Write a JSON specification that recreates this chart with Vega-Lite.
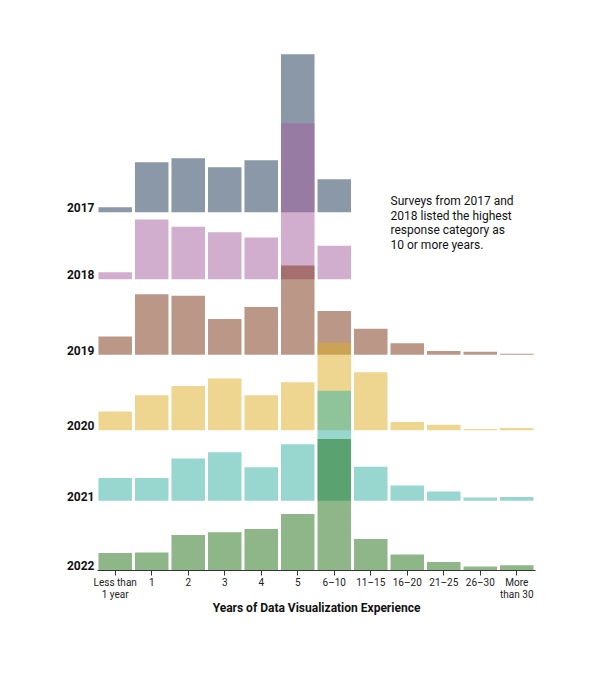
{
  "$schema": "https://vega.github.io/schema/vega-lite/v6.json",
  "autosize": {"type": "none"},
  "width": 438,
  "height": 530,
  "padding": {"left": 97, "top": 40, "right": 65, "bottom": 103},
  "config": {"view": {"stroke": null}, "font": "Roboto"},
  "datasets": {
    "survey": [
      {"year": "2017", "cat": "Less than 1 year", "pct": 1.3},
      {"year": "2017", "cat": "1", "pct": 12.6},
      {"year": "2017", "cat": "2", "pct": 13.6},
      {"year": "2017", "cat": "3", "pct": 11.3},
      {"year": "2017", "cat": "4", "pct": 13.1},
      {"year": "2017", "cat": "5", "pct": 39.7},
      {"year": "2017", "cat": "6–10", "pct": 8.3},
      {"year": "2018", "cat": "Less than 1 year", "pct": 1.8},
      {"year": "2018", "cat": "1", "pct": 15.0},
      {"year": "2018", "cat": "2", "pct": 13.2},
      {"year": "2018", "cat": "3", "pct": 11.8},
      {"year": "2018", "cat": "4", "pct": 10.5},
      {"year": "2018", "cat": "5", "pct": 39.2},
      {"year": "2018", "cat": "6–10", "pct": 8.4},
      {"year": "2019", "cat": "Less than 1 year", "pct": 4.6},
      {"year": "2019", "cat": "1", "pct": 15.2},
      {"year": "2019", "cat": "2", "pct": 14.8},
      {"year": "2019", "cat": "3", "pct": 9.0},
      {"year": "2019", "cat": "4", "pct": 12.0},
      {"year": "2019", "cat": "5", "pct": 22.4},
      {"year": "2019", "cat": "6–10", "pct": 11.0},
      {"year": "2019", "cat": "11–15", "pct": 6.5},
      {"year": "2019", "cat": "16–20", "pct": 2.9},
      {"year": "2019", "cat": "21–25", "pct": 0.9},
      {"year": "2019", "cat": "26–30", "pct": 0.75},
      {"year": "2019", "cat": "More than 30", "pct": 0.25},
      {"year": "2020", "cat": "Less than 1 year", "pct": 4.7},
      {"year": "2020", "cat": "1", "pct": 8.8},
      {"year": "2020", "cat": "2", "pct": 11.1},
      {"year": "2020", "cat": "3", "pct": 13.0},
      {"year": "2020", "cat": "4", "pct": 8.8},
      {"year": "2020", "cat": "5", "pct": 12.1},
      {"year": "2020", "cat": "6–10", "pct": 22.0},
      {"year": "2020", "cat": "11–15", "pct": 14.6},
      {"year": "2020", "cat": "16–20", "pct": 2.1},
      {"year": "2020", "cat": "21–25", "pct": 1.4},
      {"year": "2020", "cat": "26–30", "pct": 0.33},
      {"year": "2020", "cat": "More than 30", "pct": 0.58},
      {"year": "2021", "cat": "Less than 1 year", "pct": 5.7},
      {"year": "2021", "cat": "1", "pct": 5.7},
      {"year": "2021", "cat": "2", "pct": 10.6},
      {"year": "2021", "cat": "3", "pct": 12.2},
      {"year": "2021", "cat": "4", "pct": 8.4},
      {"year": "2021", "cat": "5", "pct": 14.2},
      {"year": "2021", "cat": "6–10", "pct": 27.6},
      {"year": "2021", "cat": "11–15", "pct": 8.5},
      {"year": "2021", "cat": "16–20", "pct": 3.8},
      {"year": "2021", "cat": "21–25", "pct": 2.3},
      {"year": "2021", "cat": "26–30", "pct": 0.8},
      {"year": "2021", "cat": "More than 30", "pct": 0.9},
      {"year": "2022", "cat": "Less than 1 year", "pct": 4.3},
      {"year": "2022", "cat": "1", "pct": 4.4},
      {"year": "2022", "cat": "2", "pct": 8.8},
      {"year": "2022", "cat": "3", "pct": 9.5},
      {"year": "2022", "cat": "4", "pct": 10.3},
      {"year": "2022", "cat": "5", "pct": 14.1},
      {"year": "2022", "cat": "6–10", "pct": 32.9},
      {"year": "2022", "cat": "11–15", "pct": 7.8},
      {"year": "2022", "cat": "16–20", "pct": 3.9},
      {"year": "2022", "cat": "21–25", "pct": 2.0},
      {"year": "2022", "cat": "26–30", "pct": 0.9},
      {"year": "2022", "cat": "More than 30", "pct": 1.2}
    ]
  },
  "data": {"name": "survey"},
  "encoding": {
    "x": {
      "field": "cat",
      "type": "nominal",
      "sort": null,
      "scale": {
        "domain": ["Less than 1 year", "1", "2", "3", "4", "5", "6–10", "11–15", "16–20", "21–25", "26–30", "More than 30"],
        "paddingInner": 0.082,
        "paddingOuter": 0.04
      },
      "title": "Years of Data Visualization Experience",
      "axis": {
        "labelAngle": 0,
        "labelFont": "Roboto",
        "labelFontSize": 10,
        "labelColor": "#222",
        "labelLineHeight": 12,
        "labelPadding": 2,
        "labelExpr": "datum.label == 'Less than 1 year' ? ['Less than', '1 year'] : datum.label == 'More than 30' ? ['More', 'than 30'] : datum.label",
        "domainColor": "#333",
        "tickColor": "#333",
        "tickSize": 5,
        "titleFont": "Roboto",
        "titleFontSize": 12,
        "titleFontWeight": "bold",
        "titleColor": "#111",
        "titlePadding": 3
      }
    },
    "color": {
      "field": "year",
      "type": "nominal",
      "scale": {
        "domain": ["2017", "2018", "2019", "2020", "2021", "2022"],
        "range": ["#153151", "#a55d9d", "#772f0f", "#ddad21", "#2fafa1", "#1f6d11"]
      },
      "legend": null
    }
  },
  "layer": [
    {
      "transform": [{"filter": "datum.year == '2017'"}],
      "encoding": {"y": {"field": "pct", "type": "quantitative", "axis": null, "scale": {"domain": [0, 100], "range": [172.3, -225.7], "nice": false, "zero": false}}},
      "layer": [
        {"mark": {"type": "bar", "fillOpacity": 0.5}},
        {
          "transform": [{"filter": "datum.cat == 'Less than 1 year'"}],
          "mark": {"type": "text", "align": "right", "baseline": "alphabetic", "dx": -4, "fontSize": 12, "fontWeight": "bold", "font": "Roboto"},
          "encoding": {"x": {"field": "cat", "type": "nominal", "bandPosition": 0}, "y": {"datum": 0}, "text": {"field": "year"}, "color": {"value": "#111"}}
        },
        {
          "transform": [{"filter": "datum.cat == 'Less than 1 year'"}],
          "mark": {"type": "text", "align": "left", "baseline": "alphabetic", "fontSize": 12, "lineHeight": 14.8, "font": "Roboto", "text": ["Surveys from 2017 and", "2018 listed the highest", "response category as", "10 or more years."]},
          "encoding": {"x": {"datum": "16–20", "bandPosition": 0}, "y": {"datum": 1.9}, "color": {"value": "#111"}}
        }
      ]
    },
    {
      "transform": [{"filter": "datum.year == '2018'"}],
      "encoding": {"y": {"field": "pct", "type": "quantitative", "axis": null, "scale": {"domain": [0, 100], "range": [239.3, -158.7], "nice": false, "zero": false}}},
      "layer": [
        {"mark": {"type": "bar", "fillOpacity": 0.5}},
        {
          "transform": [{"filter": "datum.cat == 'Less than 1 year'"}],
          "mark": {"type": "text", "align": "right", "baseline": "alphabetic", "dx": -4, "fontSize": 12, "fontWeight": "bold", "font": "Roboto"},
          "encoding": {"x": {"field": "cat", "type": "nominal", "bandPosition": 0}, "y": {"datum": 0}, "text": {"field": "year"}, "color": {"value": "#111"}}
        }
      ]
    },
    {
      "transform": [{"filter": "datum.year == '2019'"}],
      "encoding": {"y": {"field": "pct", "type": "quantitative", "axis": null, "scale": {"domain": [0, 100], "range": [314.7, -83.3], "nice": false, "zero": false}}},
      "layer": [
        {"mark": {"type": "bar", "fillOpacity": 0.5}},
        {
          "transform": [{"filter": "datum.cat == 'Less than 1 year'"}],
          "mark": {"type": "text", "align": "right", "baseline": "alphabetic", "dx": -4, "fontSize": 12, "fontWeight": "bold", "font": "Roboto"},
          "encoding": {"x": {"field": "cat", "type": "nominal", "bandPosition": 0}, "y": {"datum": 0}, "text": {"field": "year"}, "color": {"value": "#111"}}
        }
      ]
    },
    {
      "transform": [{"filter": "datum.year == '2020'"}],
      "encoding": {"y": {"field": "pct", "type": "quantitative", "axis": null, "scale": {"domain": [0, 100], "range": [390.3, -7.7], "nice": false, "zero": false}}},
      "layer": [
        {"mark": {"type": "bar", "fillOpacity": 0.5}},
        {
          "transform": [{"filter": "datum.cat == 'Less than 1 year'"}],
          "mark": {"type": "text", "align": "right", "baseline": "alphabetic", "dx": -4, "fontSize": 12, "fontWeight": "bold", "font": "Roboto"},
          "encoding": {"x": {"field": "cat", "type": "nominal", "bandPosition": 0}, "y": {"datum": 0}, "text": {"field": "year"}, "color": {"value": "#111"}}
        }
      ]
    },
    {
      "transform": [{"filter": "datum.year == '2021'"}],
      "encoding": {"y": {"field": "pct", "type": "quantitative", "axis": null, "scale": {"domain": [0, 100], "range": [460.7, 62.7], "nice": false, "zero": false}}},
      "layer": [
        {"mark": {"type": "bar", "fillOpacity": 0.5}},
        {
          "transform": [{"filter": "datum.cat == 'Less than 1 year'"}],
          "mark": {"type": "text", "align": "right", "baseline": "alphabetic", "dx": -4, "fontSize": 12, "fontWeight": "bold", "font": "Roboto"},
          "encoding": {"x": {"field": "cat", "type": "nominal", "bandPosition": 0}, "y": {"datum": 0}, "text": {"field": "year"}, "color": {"value": "#111"}}
        }
      ]
    },
    {
      "transform": [{"filter": "datum.year == '2022'"}],
      "encoding": {"y": {"field": "pct", "type": "quantitative", "axis": null, "scale": {"domain": [0, 100], "range": [530, 132], "nice": false, "zero": false}}},
      "layer": [
        {"mark": {"type": "bar", "fillOpacity": 0.5}},
        {
          "transform": [{"filter": "datum.cat == 'Less than 1 year'"}],
          "mark": {"type": "text", "align": "right", "baseline": "alphabetic", "dx": -4, "fontSize": 12, "fontWeight": "bold", "font": "Roboto"},
          "encoding": {"x": {"field": "cat", "type": "nominal", "bandPosition": 0}, "y": {"datum": 0}, "text": {"field": "year"}, "color": {"value": "#111"}}
        }
      ]
    }
  ],
  "resolve": {"scale": {"y": "independent"}}
}
